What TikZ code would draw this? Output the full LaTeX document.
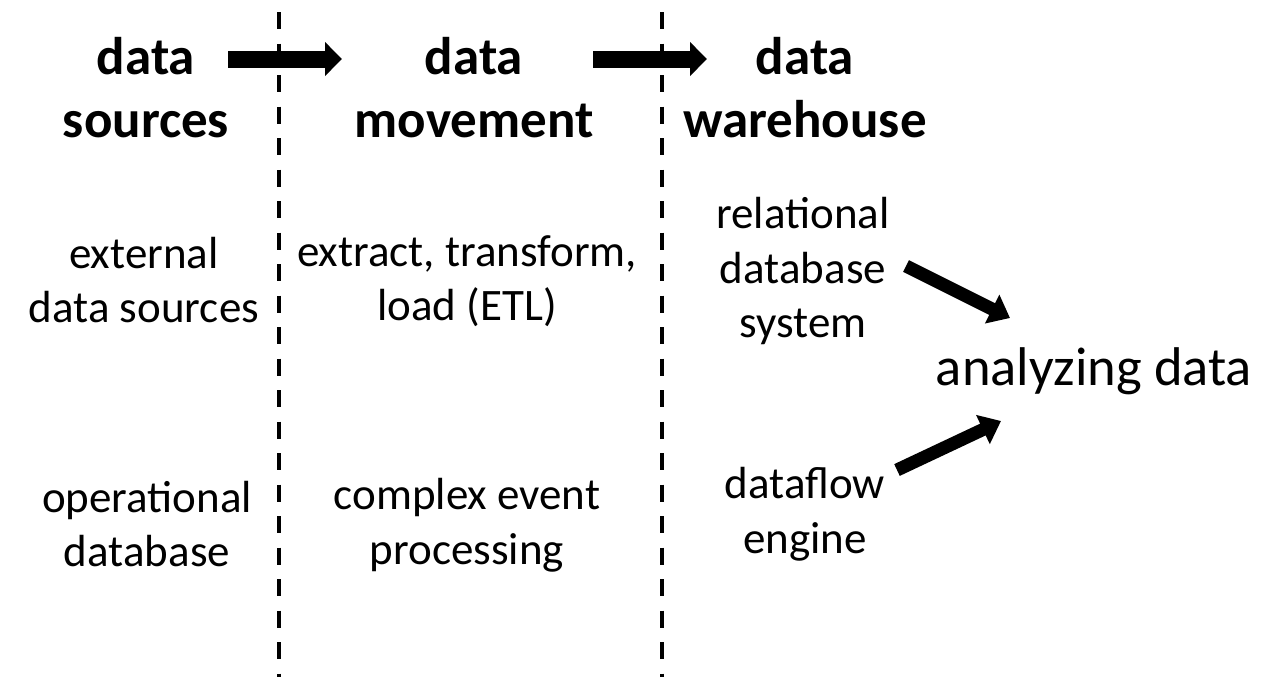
\documentclass[tikz,border=0pt]{standalone}
\usepackage{fontspec}
\setmainfont{Carlito}
\usetikzlibrary{arrows.meta}

\begin{document}
\begin{tikzpicture}[x=1pt, y=1pt,
    hdr/.style={align=center, font=\bfseries\fontsize{53}{63}\selectfont},
    txt/.style={align=center, font=\fontsize{45}{54.5}\selectfont},
    sepline/.style={line width=4.5pt, dash pattern=on 17pt off 14.5pt},
    bigarrow/.style={line width=17pt, -{Triangle[length=17pt, width=33pt]}},
    diagarrow/.style={line width=13pt, -{Triangle[length=20pt, width=31pt]}}]
    \useasboundingbox (0, 0) rectangle (1266, -694);

    % separators
    \draw[sepline] (279, -12) -- (279, -677);
    \draw[sepline] (662, -12) -- (662, -677);

    %%%%%%%%%%%%%%%%%%%%%%%%%%%%%%%%%%%%%%%%%%%%%%%%%%%%%%

    \node[hdr](srchdr) at (146, -88) {data\\sources};
    \node[hdr](movhdr) at (474, -88) {data\\movement};
    \node[hdr](whhdr) at (805, -88) {data\\warehouse};

    \coordinate (a1s) at (228, -59);
    \coordinate (a1e) at (342, -59);
    \coordinate (a2s) at (593, -59);
    \coordinate (a2e) at (707, -59);
    \draw[bigarrow] (a1s) -- (a1e);
    \draw[bigarrow] (a2s) -- (a2e);

    %%%%%%%%%%%%%%%%%%%%%%%%%%%%%%%%%%%%%%%%%%%%%%%%%%%%%%

    \node[txt](extsrc) at (144, -280) {external\\data sources};
    \node[txt](opdb) at (147, -524) {operational\\database};

    \node[txt](etl) at (467, -281) {extract, transform,\\load (ETL)};
    \node[txt](cep) at (467, -525) {complex event\\processing};

    \node[txt](rdbms) at (803, -271) {relational\\database\\system};
    \node[txt](dfe) at (805, -514) {dataflow\\engine};

    \node[font=\fontsize{54.5}{64}\selectfont](analyze) at (1094, -371) {analyzing data};

    %%%%%%%%%%%%%%%%%%%%%%%%%%%%%%%%%%%%%%%%%%%%%%%%%%%%%%

    \coordinate (d1s) at (906, -266);
    \coordinate (d1e) at (1010, -318);
    \coordinate (d2s) at (897, -470);
    \coordinate (d2e) at (1001, -421);
    \draw[diagarrow] (d1s) -- (d1e);
    \draw[diagarrow] (d2s) -- (d2e);
\end{tikzpicture}
\end{document}
